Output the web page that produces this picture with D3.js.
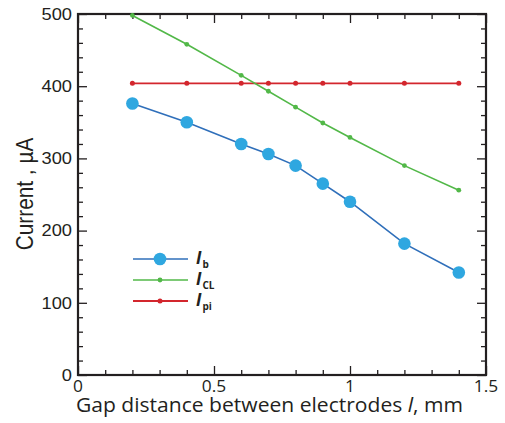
<!DOCTYPE html>
<html>
<head>
<meta charset="utf-8">
<script src="https://cdn.jsdelivr.net/npm/d3@7"></script>
<style>
  html, body { margin: 0; padding: 0; background: #fff; }
  svg { display: block; }
</style>
</head>
<body>
<svg id="chart" width="505" height="423"></svg>
<script>
// Gap distance (mm) and the three currents (µA)
const gap = [0.2, 0.4, 0.6, 0.7, 0.8, 0.9, 1.0, 1.2, 1.4];
const Ib  = [376, 350, 320, 306, 290, 265, 240, 182, 142];
const Icl = [498, 458, 415, 393, 371, 349, 329, 290, 256];
const Ipi = [404, 404, 404, 404, 404, 404, 404, 404, 404];

const xTickLabels = ["0", "0.5", "1", "1.5"];
const yTickLabels = ["0", "100", "200", "300", "400", "500"];

const series = [
  { name: "b",  values: Ib,  line: "#2f6fba", fill: "#2fa7e0", r: 6.3, width: 1.6 },
  { name: "CL", values: Icl, line: "#52b848", fill: "#52b848", r: 2.4, width: 1.6 },
  { name: "pi", values: Ipi, line: "#d3262d", fill: "#d3262d", r: 2.5, width: 1.8 }
];

const svg = d3.select("#chart");
const plotL = 78, plotR = 486, plotT = 14, plotB = 375;

const x = d3.scaleLinear().domain([0, 1.5]).range([plotL, plotR]);
const y = d3.scaleLinear().domain([0, 500]).range([plotB, plotT]);

const axisColor = "#231f20";
const majorX = [0, 0.5, 1, 1.5];
const minorX = d3.range(1, 15).filter(v => v % 5 !== 0).map(v => v / 10);
const majorY = [0, 100, 200, 300, 400, 500];
const minorY = d3.range(0, 500.1, 20).filter(v => v % 100 !== 0);

// inward ticks on all four sides
function tickAxis(gen, scale, vals, len) {
  return gen(scale).tickValues(vals).tickSize(len).tickFormat("");
}
const majLen = -9, minLen = -5;

const axes = svg.append("g").attr("class", "axes");
axes.append("g").attr("transform", `translate(0,${plotB})`).call(tickAxis(d3.axisBottom, x, majorX, majLen));
axes.append("g").attr("transform", `translate(0,${plotB})`).call(tickAxis(d3.axisBottom, x, minorX, minLen));
axes.append("g").attr("transform", `translate(0,${plotT})`).call(tickAxis(d3.axisTop, x, majorX, majLen));
axes.append("g").attr("transform", `translate(0,${plotT})`).call(tickAxis(d3.axisTop, x, minorX, minLen));
axes.append("g").attr("transform", `translate(${plotL},0)`).call(tickAxis(d3.axisLeft, y, majorY, majLen));
axes.append("g").attr("transform", `translate(${plotL},0)`).call(tickAxis(d3.axisLeft, y, minorY, minLen));
axes.append("g").attr("transform", `translate(${plotR},0)`).call(tickAxis(d3.axisRight, y, majorY, majLen));
axes.append("g").attr("transform", `translate(${plotR},0)`).call(tickAxis(d3.axisRight, y, minorY, minLen));
axes.selectAll(".domain").remove();
axes.selectAll("line").attr("stroke", axisColor).attr("stroke-width", 1.3);
axes.selectAll("text").remove();

// frame
svg.append("rect")
  .attr("x", plotL).attr("y", plotT)
  .attr("width", plotR - plotL).attr("height", plotB - plotT)
  .attr("fill", "none").attr("stroke", axisColor).attr("stroke-width", 2.2);

// tick labels (glyphs slightly widened)
svg.append("g").selectAll("text").data(majorX).join("text")
  .attr("transform", d => `translate(${x(d)},${plotB + 17}) scale(1.12,1)`)
  .attr("text-anchor", "middle")
  .attr("font-family", "'Open Sans', sans-serif").attr("font-size", 15.5)
  .attr("fill", axisColor)
  .text((d, i) => xTickLabels[i]);

svg.append("g").selectAll("text").data(majorY).join("text")
  .attr("transform", d => `translate(${plotL - 6},${y(d)}) scale(1.13,1)`)
  .attr("dy", "0.36em")
  .attr("text-anchor", "end")
  .attr("font-family", "'Liberation Sans', Arial, sans-serif").attr("font-size", 16.2)
  .attr("fill", axisColor)
  .text((d, i) => yTickLabels[i]);

// axis titles
const xt = svg.append("text")
  .attr("x", 76).attr("y", 412)
  .attr("textLength", 387).attr("lengthAdjust", "spacingAndGlyphs")
  .attr("font-family", "'Open Sans', sans-serif").attr("font-size", 19.5)
  .attr("fill", axisColor);
xt.append("tspan").text("Gap distance between electrodes ");
xt.append("tspan").attr("font-style", "italic").text("l");
xt.append("tspan").text(", mm");

svg.append("text")
  .attr("transform", "translate(33,194) rotate(-90) scale(1,1.13)")
  .attr("text-anchor", "middle")
  .attr("font-family", "'Liberation Sans', Arial, sans-serif").attr("font-size", 20.8)
  .attr("fill", axisColor)
  .text("Current , \u00b5A");

// series: red first, green, blue on top
const line = d3.line().x(d => x(d[0])).y(d => y(d[1]));
const drawOrder = [series[2], series[1], series[0]];
const plot = svg.append("g");
drawOrder.forEach(s => {
  const pts = gap.map((g, i) => [g, s.values[i]]);
  plot.append("path").datum(pts)
    .attr("d", line).attr("fill", "none")
    .attr("stroke", s.line).attr("stroke-width", s.width);
  plot.append("g").selectAll("circle").data(pts).join("circle")
    .attr("cx", d => x(d[0])).attr("cy", d => y(d[1]))
    .attr("r", s.r).attr("fill", s.fill);
});

// legend
const lg = svg.append("g");
const rowY = [259, 280, 301];
series.forEach((s, i) => {
  const yy = rowY[i];
  lg.append("line").attr("x1", 133).attr("x2", 188).attr("y1", yy).attr("y2", yy)
    .attr("stroke", s.line).attr("stroke-width", s.width);
  lg.append("circle").attr("cx", 160).attr("cy", yy).attr("r", s.r).attr("fill", s.fill);
  const t = lg.append("text").attr("x", 196).attr("y", yy + 5)
    .attr("font-family", "'Open Sans', sans-serif").attr("font-weight", "bold")
    .attr("fill", axisColor);
  t.append("tspan").attr("font-style", "italic").attr("font-size", 17).text("I");
  t.append("tspan").attr("font-size", 10).attr("dy", 4).attr("dx", 1).text(s.name);
});
</script>
</body>
</html>
